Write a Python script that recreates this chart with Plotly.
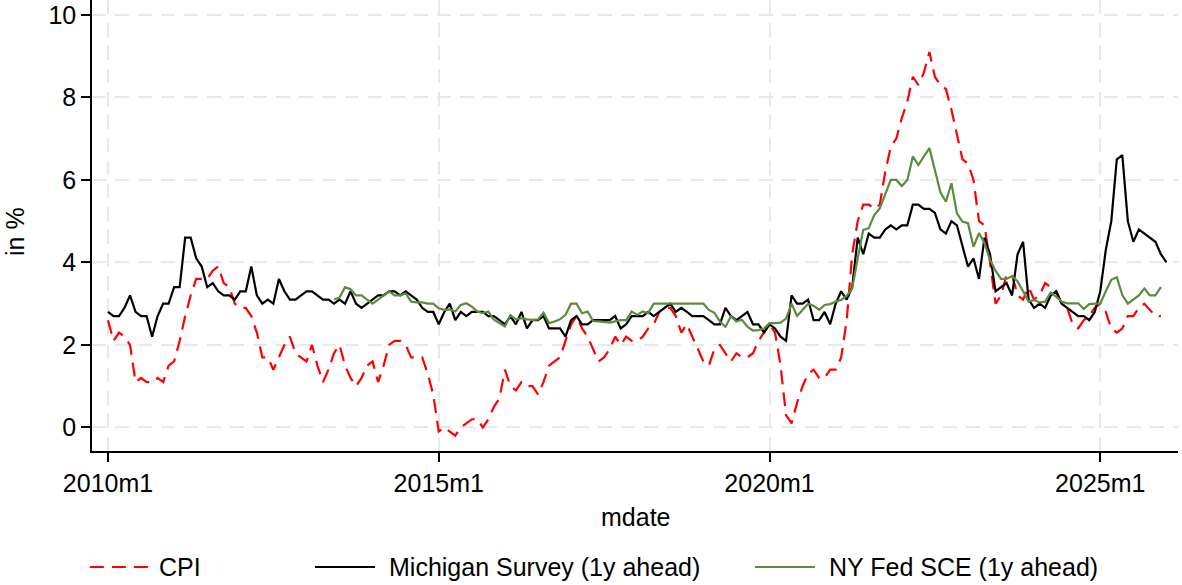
import plotly.graph_objects as go

FONT = "Liberation Sans, Arial, sans-serif"

# monthly series, first value = 2010m1
cpi = [
    2.6, 2.1, 2.3, 2.2, 2.0, 1.1, 1.2, 1.1, 1.1, 1.2, 1.1, 1.5,   # 2010
    1.6, 2.1, 2.7, 3.2, 3.6, 3.6, 3.6, 3.8, 3.9, 3.5, 3.4, 3.0,   # 2011
    2.9, 2.9, 2.7, 2.3, 1.7, 1.7, 1.4, 1.7, 2.0, 2.2, 1.8, 1.7,   # 2012
    1.6, 2.0, 1.5, 1.1, 1.4, 1.8, 2.0, 1.5, 1.2, 1.0, 1.2, 1.5,   # 2013
    1.6, 1.1, 1.5, 2.0, 2.1, 2.1, 2.0, 1.7, 1.7, 1.7, 1.3, 0.8,   # 2014
    -0.1, 0.0, -0.1, -0.2, 0.0, 0.1, 0.2, 0.2, 0.0, 0.2, 0.5, 0.7,  # 2015
    1.4, 1.0, 0.9, 1.1, 1.0, 1.0, 0.8, 1.1, 1.5, 1.6, 1.7, 2.1,   # 2016
    2.5, 2.7, 2.4, 2.2, 1.9, 1.6, 1.7, 1.9, 2.2, 2.0, 2.2, 2.1,   # 2017
    2.1, 2.2, 2.4, 2.5, 2.8, 2.9, 2.9, 2.7, 2.3, 2.5, 2.2, 1.9,   # 2018
    1.6, 1.5, 1.9, 2.0, 1.8, 1.6, 1.8, 1.7, 1.7, 1.8, 2.1, 2.3,   # 2019
    2.5, 2.3, 1.5, 0.3, 0.1, 0.6, 1.0, 1.3, 1.4, 1.2, 1.2, 1.4,   # 2020
    1.4, 1.7, 2.6, 4.2, 5.0, 5.4, 5.4, 5.3, 5.4, 6.2, 6.8, 7.0,   # 2021
    7.5, 7.9, 8.5, 8.3, 8.6, 9.1, 8.5, 8.3, 8.2, 7.7, 7.1, 6.5,   # 2022
    6.4, 6.0, 5.0, 4.9, 4.0, 3.0, 3.2, 3.7, 3.7, 3.2, 3.1, 3.4,   # 2023
    3.1, 3.2, 3.5, 3.4, 3.3, 3.0, 2.9, 2.5, 2.4, 2.6, 2.7, 2.9,   # 2024
    3.0, 2.8, 2.4, 2.3, 2.4, 2.7, 2.7, 2.9, 3.0, None, 2.7, 2.7,  # 2025
]

michigan = [
    2.8, 2.7, 2.7, 2.9, 3.2, 2.8, 2.7, 2.7, 2.2, 2.7, 3.0, 3.0,   # 2010
    3.4, 3.4, 4.6, 4.6, 4.1, 3.9, 3.4, 3.5, 3.3, 3.2, 3.2, 3.1,   # 2011
    3.3, 3.3, 3.9, 3.2, 3.0, 3.1, 3.0, 3.6, 3.3, 3.1, 3.1, 3.2,   # 2012
    3.3, 3.3, 3.2, 3.1, 3.1, 3.0, 3.1, 3.0, 3.3, 3.0, 2.9, 3.0,   # 2013
    3.1, 3.2, 3.2, 3.3, 3.3, 3.2, 3.3, 3.2, 3.1, 2.9, 2.8, 2.8,   # 2014
    2.5, 2.8, 3.0, 2.6, 2.8, 2.7, 2.8, 2.8, 2.8, 2.7, 2.7, 2.6,   # 2015
    2.5, 2.7, 2.5, 2.8, 2.4, 2.6, 2.6, 2.7, 2.4, 2.4, 2.4, 2.2,   # 2016
    2.6, 2.7, 2.5, 2.5, 2.6, 2.6, 2.6, 2.6, 2.7, 2.4, 2.5, 2.7,   # 2017
    2.7, 2.7, 2.8, 2.7, 2.8, 2.9, 3.0, 2.8, 2.9, 2.8, 2.7, 2.7,   # 2018
    2.7, 2.6, 2.5, 2.5, 2.9, 2.7, 2.6, 2.7, 2.8, 2.5, 2.5, 2.3,   # 2019
    2.5, 2.4, 2.2, 2.1, 3.2, 3.0, 3.0, 3.1, 2.6, 2.6, 2.8, 2.5,   # 2020
    3.0, 3.3, 3.1, 3.4, 4.6, 4.2, 4.7, 4.6, 4.6, 4.8, 4.9, 4.8,   # 2021
    4.9, 4.9, 5.4, 5.4, 5.3, 5.3, 5.2, 4.8, 4.7, 5.0, 4.9, 4.4,   # 2022
    3.9, 4.1, 3.6, 4.6, 4.2, 3.3, 3.4, 3.5, 3.2, 4.2, 4.5, 3.1,   # 2023
    2.9, 3.0, 2.9, 3.2, 3.3, 3.0, 2.9, 2.8, 2.7, 2.7, 2.6, 2.8,   # 2024
    3.3, 4.3, 5.0, 6.5, 6.6, 5.0, 4.5, 4.8, 4.7, 4.6, 4.5, 4.2,   # 2025
    4.0,                                                          # 2026
]

# NY Fed SCE starts 2013m6
nyfed_start = 41
nyfed = [
    3.1, 3.15, 3.4, 3.35, 3.2, 3.2, 3.1,                                      # 2013
    3.0, 3.1, 3.2, 3.3, 3.2, 3.2, 3.25, 3.05, 3.03, 3.03, 3.0, 3.0,           # 2014
    2.89, 2.85, 2.86, 2.81, 2.97, 3.01, 2.93, 2.81, 2.77, 2.81, 2.61, 2.53,   # 2015
    2.45, 2.72, 2.62, 2.65, 2.62, 2.61, 2.62, 2.78, 2.53, 2.57, 2.62, 2.73,   # 2016
    3.0, 3.0, 2.77, 2.81, 2.58, 2.57, 2.56, 2.54, 2.57, 2.6, 2.6, 2.81,       # 2017
    2.73, 2.81, 2.77, 3.0, 3.0, 3.0, 3.0, 3.0, 3.0, 3.0, 2.99, 3.0,           # 2018
    3.0, 2.85, 2.78, 2.57, 2.44, 2.69, 2.57, 2.61, 2.44, 2.35, 2.36, 2.4,     # 2019
    2.53, 2.53, 2.54, 2.64, 3.0, 2.7, 2.85, 3.0, 2.95, 2.85, 2.97, 2.99,      # 2020
    3.05, 3.09, 3.19, 3.37, 4.1, 4.79, 4.83, 5.15, 5.31, 5.65, 6.0, 6.0,      # 2021
    5.85, 6.0, 6.57, 6.36, 6.55, 6.77, 6.24, 5.7, 5.47, 5.92, 5.19, 4.99,     # 2022
    4.95, 4.38, 4.71, 4.47, 4.06, 3.8, 3.6, 3.6, 3.67, 3.54, 3.3, 3.05,       # 2023
    3.09, 3.03, 3.05, 3.27, 3.17, 3.05, 3.01, 3.01, 3.01, 2.87, 2.99, 3.0,    # 2024
    3.0, 3.3, 3.58, 3.64, 3.21, 3.0, 3.09, 3.2, 3.37, 3.2, 3.2, 3.4,          # 2025
]

tick_vals = [0, 60, 120, 180]
tick_text = ["2010m1", "2015m1", "2020m1", "2025m1"]

RED = "#ff0000"
BLACK = "#000000"
GREEN = "#5b8c3c"
GRID = "#e9e9e9"
CPI_DASH = "14px,8px"

fig = go.Figure()
fig.add_trace(go.Scatter(
    x=list(range(len(cpi))), y=cpi, mode="lines", name="CPI",
    connectgaps=True, line=dict(color=RED, width=2.2, dash=CPI_DASH),
))
fig.add_trace(go.Scatter(
    x=list(range(len(michigan))), y=michigan, mode="lines",
    name="Michigan Survey (1y ahead)", line=dict(color=BLACK, width=2.2),
))
fig.add_trace(go.Scatter(
    x=[nyfed_start + i for i in range(len(nyfed))], y=nyfed, mode="lines",
    name="NY Fed SCE (1y ahead)", line=dict(color=GREEN, width=2.2),
))

axis_common = dict(
    showline=True, linecolor="black", linewidth=1.5,
    ticks="outside", ticklen=9, tickwidth=1.5, tickcolor="black",
    showgrid=True, gridcolor=GRID, gridwidth=2, griddash="14px,9px",
    zeroline=False, ticklabeloverflow="allow",
    tickfont=dict(family=FONT, size=25, color="black"),
)

fig.update_layout(
    width=1182, height=585,
    margin=dict(l=92, r=4, t=0, b=134),
    plot_bgcolor="white", paper_bgcolor="white",
    showlegend=False,
    font=dict(family=FONT, color="black"),
    xaxis=dict(range=[-2.9, 194.1], tickvals=tick_vals, ticktext=tick_text, **axis_common),
    yaxis=dict(range=[-0.57, 10.36], tickvals=[0, 2, 4, 6, 8, 10], **axis_common),
)

# axis titles
fig.add_annotation(text="mdate", x=0.5, y=-0.1463, xref="paper", yref="paper",
                   xanchor="center", yanchor="middle", showarrow=False,
                   font=dict(size=25, family=FONT))
fig.add_annotation(text="in %", x=-0.0709, y=0.4856, xref="paper", yref="paper",
                   xanchor="center", yanchor="middle", textangle=-90,
                   showarrow=False, font=dict(size=25, family=FONT))

# legend drawn below the plot (Stata-style long keys)
leg_y = -0.2572
legend_items = [
    ("CPI", RED, CPI_DASH, -0.002, 0.0516, 0.0599),
    ("Michigan Survey (1y ahead)", BLACK, "solid", 0.2053, 0.2606, 0.2716),
    ("NY Fed SCE (1y ahead)", GREEN, "solid", 0.6105, 0.6657, 0.6768),
]
for label, col, dash, x0, x1, xt in legend_items:
    fig.add_shape(type="line", xref="paper", yref="paper", x0=x0, x1=x1,
                  y0=leg_y, y1=leg_y, line=dict(color=col, width=2.2, dash=dash))
    fig.add_annotation(text=label, x=xt, y=leg_y, xref="paper", yref="paper",
                       xanchor="left", yanchor="middle", showarrow=False,
                       font=dict(size=25, family=FONT))

# drop the browser's default 8px body margin so the figure sits at the page corner
fig.write_html("out.html", config={"displayModeBar": False},
               post_script="document.body.style.margin='0';")
